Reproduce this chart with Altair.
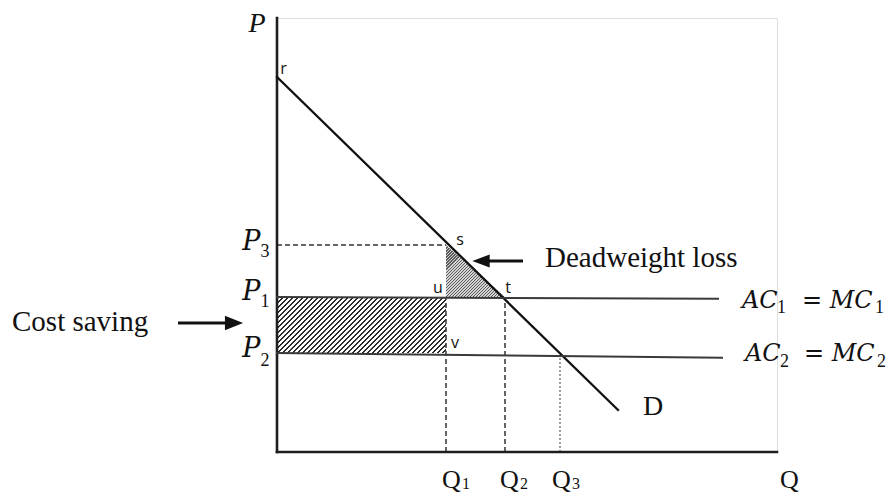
import altair as alt
import pandas as pd

# ---------------- values (axis units 0..10) ----------------
q_subs = ["1", "2", "3"]
q_values = [3.38, 4.56, 5.66]          # Q1, Q2, Q3
p_subs = ["3", "1", "2"]
p_values = [4.77, 3.57, 2.28]          # P3, P1, P2
demand_q = [0.0, 6.82]                 # demand line D from r to its end
demand_p = [8.64, 0.97]
ac1_q = [0.0, 8.82]                    # AC1 = MC1
ac1_p = [3.57, 3.53]
ac2_q = [0.0, 8.90]                    # AC2 = MC2
ac2_p = [2.28, 2.17]
axis_max = [10.0, 10.0]                # Q axis end, P axis end
point_names = ["r", "s", "u", "t", "v"]

Q1, Q2, Q3 = q_values
P3, P1, P2 = p_values

# ---------------- layout ----------------
W, H = 500, 434
xs = alt.Scale(domain=[0, axis_max[0]], nice=False, zero=False)
ys = alt.Scale(domain=[0, axis_max[1]], nice=False, zero=False)


def X(f):
    return alt.X(f, type="quantitative", scale=xs, axis=None)


def Y(f):
    return alt.Y(f, type="quantitative", scale=ys, axis=None)


def hatch(w_px, h_px, period, duty, dark, light="#ffffff"):
    """diagonal '////' stripes as a hard-stop linear gradient in bbox units"""
    s = (w_px + h_px) * w_px / (w_px ** 2 + h_px ** 2)
    n = max(1, int(round((w_px + h_px) / period)))
    stops = []
    for k in range(n):
        a = k / n
        b = (k + duty) / n
        c = (k + 1) / n
        stops += [
            alt.GradientStop(color=dark, offset=a),
            alt.GradientStop(color=dark, offset=b),
            alt.GradientStop(color=light, offset=b),
            alt.GradientStop(color=light, offset=c),
        ]
    return alt.LinearGradient(gradient="linear", stops=stops,
                              x1=0, y1=0, x2=s, y2=s * h_px / w_px)


px_per_q = W / axis_max[0]
px_per_p = H / axis_max[1]

# cost saving rectangle
cost_df = pd.DataFrame({"x": [0.0], "x2": [Q1], "y": [P2], "y2": [P1]})
cost_rect = alt.Chart(cost_df).mark_rect(
    fill=hatch(Q1 * px_per_q, (P1 - P2) * px_per_p, 5.0, 0.45, "#2a2a2a"),
    strokeWidth=0,
).encode(x=X("x"), x2="x2", y=Y("y"), y2="y2")

# deadweight loss triangle s-u-t
dwl_df = pd.DataFrame({"x": [Q1, Q2], "y": [P3, P1], "y2": [P1, P1]})
dwl = alt.Chart(dwl_df).mark_area(
    fill=hatch((Q2 - Q1) * px_per_q, (P3 - P1) * px_per_p, 3.0, 0.5, "#5a5a5a", "#d4d4d4"),
).encode(x=X("x"), y=Y("y"), y2="y2")

# solid lines
solid_df = pd.DataFrame({
    "x": [0.0, 0.0, demand_q[0], ac1_q[0], ac2_q[0]],
    "x2": [0.0, axis_max[0], demand_q[1], ac1_q[1], ac2_q[1]],
    "y": [0.0, 0.0, demand_p[0], ac1_p[0], ac2_p[0]],
    "y2": [axis_max[1], 0.0, demand_p[1], ac1_p[1], ac2_p[1]],
    "w": ["axis", "axis", "d", "ac", "ac"],
})
solid = alt.Chart(solid_df).mark_rule(strokeCap="square").encode(
    x=X("x"), x2="x2", y=Y("y"), y2="y2",
    color=alt.Color("w:N", legend=None,
                    scale=alt.Scale(domain=["axis", "d", "ac"],
                                    range=["#1e1e1e", "#111111", "#3a3a3a"])),
    strokeWidth=alt.StrokeWidth("w:N", legend=None,
                                scale=alt.Scale(domain=["axis", "d", "ac"],
                                                range=[2.6, 2.0, 2.4])),
)

# dashed guide lines
dash_df = pd.DataFrame({
    "x": [0.0, Q1, Q2],
    "x2": [Q1, Q1, Q2],
    "y": [P3, 0.0, 0.0],
    "y2": [P3, P1, P1],
})
dashed = alt.Chart(dash_df).mark_rule(strokeDash=[5, 3], strokeWidth=1.5, color="#333333").encode(
    x=X("x"), x2="x2", y=Y("y"), y2="y2")

dot_df = pd.DataFrame({"x": [Q3], "x2": [Q3], "y": [0.0], "y2": [P2 - 0.05]})
dotted = alt.Chart(dot_df).mark_rule(strokeDash=[2, 2], strokeWidth=1.4, color="#777777").encode(
    x=X("x"), x2="x2", y=Y("y"), y2="y2")

# arrows
arrow_df = pd.DataFrame({
    "x": [-1.98, 4.92], "x2": [-0.86, 4.08], "y": [2.97, 4.40], "y2": [2.97, 4.40],
})
shafts = alt.Chart(arrow_df).mark_rule(strokeWidth=3, color="#111111").encode(
    x=X("x"), x2="x2", y=Y("y"), y2="y2")
head_r = alt.Chart(pd.DataFrame({"x": [-0.86], "y": [2.97]})).mark_point(
    shape="M 1 0 L -1 -0.8 L -1 0.8 Z", filled=True, size=330, color="#111111", opacity=1,
).encode(x=X("x"), y=Y("y"))
head_l = alt.Chart(pd.DataFrame({"x": [4.08], "y": [4.40]})).mark_point(
    shape="M -1 0 L 1 -0.75 L 1 0.75 Z", filled=True, size=300, color="#111111", opacity=1,
).encode(x=X("x"), y=Y("y"))

# ---------------- texts ----------------
serif = "Liberation Serif"
math = "DejaVu Serif"

p_axis = alt.Chart(pd.DataFrame({"t": ["P"], "x": [-0.40], "y": [9.86]})).mark_text(
    font=serif, fontStyle="italic", fontSize=28, align="center", baseline="middle", color="#111"
).encode(x=X("x"), y=Y("y"), text="t:N")

# P3 / P1 / P2 : italic letter + subscript
p_main = alt.Chart(pd.DataFrame({"t": ["P"] * 3, "x": [-0.33] * 3,
                                 "y": [4.65, 3.50, 2.19]})).mark_text(
    font=math, fontStyle="italic", fontSize=27, align="right", baseline="alphabetic", color="#111"
).encode(x=X("x"), y=Y("y"), text="t:N")

# AC = MC labels : italic pieces
ac_main = alt.Chart(pd.DataFrame({
    "t": ["AC", "= MC", "AC", "= MC"],
    "x": [9.30, 10.50, 9.36, 10.54],
    "y": [3.32, 3.32, 2.10, 2.10],
})).mark_text(font=math, fontStyle="italic", fontSize=24, align="left",
              baseline="alphabetic", color="#111").encode(x=X("x"), y=Y("y"), text="t:N")

subs = alt.Chart(pd.DataFrame({
    "t": p_subs + ["1", "1", "2", "2"],
    "x": [-0.33] * 3 + [10.00, 11.96, 10.06, 12.00],
    "y": [4.49, 3.34, 1.99, 3.20, 3.20, 1.96, 1.96],
})).mark_text(font=serif, fontSize=18, align="left", baseline="alphabetic", color="#111").encode(
    x=X("x"), y=Y("y"), text="t:N")

words = alt.Chart(pd.DataFrame({
    "t": ["Cost saving", "Deadweight loss"],
    "x": [-5.30, 5.36],
    "y": [3.00, 4.47],
})).mark_text(font=serif, fontSize=29, align="left", baseline="middle", color="#111").encode(
    x=X("x"), y=Y("y"), text="t:N")

q_main = alt.Chart(pd.DataFrame({
    "t": ["Q"] * 4,
    "x": [3.30, 4.46, 5.50, 10.06],
    "y": [-0.64] * 4,
})).mark_text(font=serif, fontSize=26, align="left", baseline="middle", color="#111").encode(
    x=X("x"), y=Y("y"), text="t:N")

q_sub = alt.Chart(pd.DataFrame({
    "t": q_subs,
    "x": [3.70, 4.86, 5.90],
    "y": [-0.85] * 3,
})).mark_text(font=serif, fontSize=16, align="left", baseline="alphabetic", color="#111").encode(
    x=X("x"), y=Y("y"), text="t:N")

d_lab = alt.Chart(pd.DataFrame({"t": ["D"], "x": [7.52], "y": [1.04]})).mark_text(
    font=serif, fontSize=28, align="center", baseline="middle", color="#111"
).encode(x=X("x"), y=Y("y"), text="t:N")

pt_lab = alt.Chart(pd.DataFrame({
    "t": point_names,
    "x": [0.13, 3.66, 3.22, 4.62, 3.56],
    "y": [8.82, 4.88, 3.78, 3.78, 2.51],
})).mark_text(font="Open Sans", fontSize=16, align="center", baseline="middle", color="#111").encode(
    x=X("x"), y=Y("y"), text="t:N")

chart = alt.layer(
    cost_rect, dwl, dashed, dotted, solid, shafts, head_r, head_l,
    p_axis, p_main, ac_main, subs, words, q_main, q_sub, d_lab, pt_lab,
).properties(
    width=W, height=H,
    autosize=alt.AutoSizeParams(type="none"),
    padding={"left": 269, "top": 10, "right": 111, "bottom": 42},
).configure_view(stroke=None).configure(background="white")

chart.save("out.html", embed_options={"renderer": "svg", "actions": False})
